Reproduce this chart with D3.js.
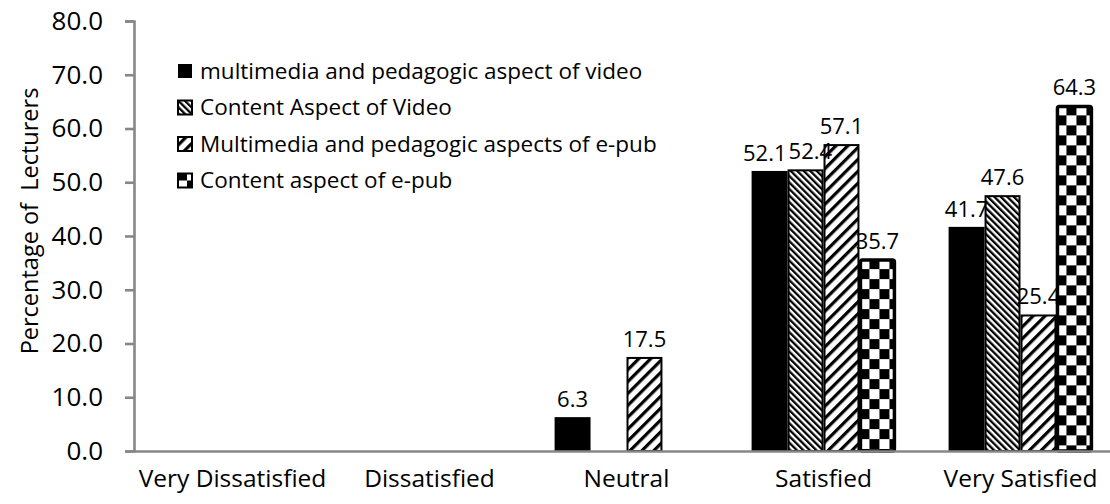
<!DOCTYPE html>
<html>
<head>
<meta charset="utf-8">
<script src="https://cdn.jsdelivr.net/npm/d3@7/dist/d3.min.js"></script>
<style>
  body{margin:0;background:#fff;}
  text{font-family:"Open Sans",sans-serif;fill:#000;}
</style>
</head>
<body>
<div id="chart"></div>
<script>
//data
var categories = ['Very Dissatisfied','Dissatisfied','Neutral','Satisfied','Very Satisfied'];
var seriesNames = ['multimedia and pedagogic aspect of video','Content Aspect of Video','Multimedia and pedagogic aspects of e-pub','Content aspect of e-pub'];
var videoMultimedia = [null,null,6.3,52.1,41.7];
var videoContent    = [null,null,null,52.4,47.6];
var epubMultimedia  = [null,null,17.5,57.1,25.4];
var epubContent     = [null,null,null,35.7,64.3];
var yTicks = [0,10,20,30,40,50,60,70,80];

var seriesValues = [videoMultimedia,videoContent,epubMultimedia,epubContent];
var fills = ['#000','url(#pat-back)','url(#pat-fwd)','url(#pat-check)'];

var W = 1110, H = 504;
var plotL = 134, plotR = 1119, plotT = 21, plotB = 451;
var grey = '#878787';

var svg = d3.select('#chart').append('svg')
    .attr('width',W)
    .attr('height',H);

//fill patterns
var defs = svg.append('defs');

var pBack = defs.append('pattern')
    .attr('id','pat-back')
    .attr('patternUnits','userSpaceOnUse')
    .attr('width',4.6).attr('height',4.6)
    .attr('patternTransform','rotate(-45)');
pBack.append('rect').attr('width',4.6).attr('height',4.6).attr('fill','#fff');
pBack.append('rect').attr('width',2.3).attr('height',4.6).attr('fill','#000');

var pFwd = defs.append('pattern')
    .attr('id','pat-fwd')
    .attr('patternUnits','userSpaceOnUse')
    .attr('width',8.4).attr('height',8.4)
    .attr('patternTransform','rotate(45)');
pFwd.append('rect').attr('width',8.4).attr('height',8.4).attr('fill','#fff');
pFwd.append('rect').attr('width',3.2).attr('height',8.4).attr('fill','#000');

var pCheck = defs.append('pattern')
    .attr('id','pat-check')
    .attr('patternUnits','userSpaceOnUse')
    .attr('width',20).attr('height',20);
pCheck.append('rect').attr('width',20).attr('height',20).attr('fill','#fff');
pCheck.append('rect').attr('x',10).attr('y',0).attr('width',10).attr('height',10).attr('fill','#000');
pCheck.append('rect').attr('x',0).attr('y',10).attr('width',10).attr('height',10).attr('fill','#000');

//scales
var x0 = d3.scaleBand().domain(categories).range([plotL,plotR]).padding(0);
var groupW = x0.bandwidth()*0.73;
var x1 = d3.scaleBand().domain(d3.range(seriesNames.length)).range([0,groupW]).padding(0);
var y = d3.scaleLinear().domain([0,80]).range([plotB,plotT]);

function barX(d){ return x0(d.cat) + (x0.bandwidth()-groupW)/2 + x1(d.s); }

//bars
var bars = [];
categories.forEach(function(c,ci){
  seriesValues.forEach(function(vals,si){
    if(vals[ci] != null) bars.push({cat:c,s:si,v:vals[ci]});
  });
});

var barG = svg.append('g').attr('class','bars');
var barSel = barG.selectAll('g')
    .data(bars)
    .enter().append('g')
    .attr('transform',function(d){ return 'translate(' + barX(d) + ',' + y(d.v) + ')'; });

barSel.append('rect')
    .attr('x',function(d){ return d.s==0 ? 0 : 1; })
    .attr('y',function(d){ return d.s==0 ? 0 : 1; })
    .attr('width',function(d){ return d.s==0 ? x1.bandwidth() : x1.bandwidth()-2; })
    .attr('height',function(d){ return y(0)-y(d.v) - (d.s==0 ? 0 : 1); })
    .attr('rx',function(d){ return d.s==3 ? 2 : 0; })
    .attr('fill',function(d){ return fills[d.s]; })
    .attr('stroke',function(d){ return d.s==0 ? 'none' : '#000'; })
    .attr('stroke-width',function(d){ return d.s==3 ? 3.5 : 2; });

//axes
var yAxis = d3.axisLeft(y)
    .tickValues(yTicks)
    .tickFormat(d3.format('.1f'))
    .tickSize(9)
    .tickPadding(22);

var gy = svg.append('g')
    .attr('transform','translate(' + plotL + ',0)')
    .call(yAxis);
gy.select('.domain').attr('stroke',grey).attr('stroke-width',2.6);
gy.selectAll('.tick line').attr('stroke',grey).attr('stroke-width',2.6);
gy.selectAll('.tick text').attr('font-size',26);

var xAxis = d3.axisBottom(x0)
    .tickSize(0)
    .tickSizeOuter(0)
    .tickPadding(19);

var gx = svg.append('g')
    .attr('transform','translate(0,' + plotB + ')')
    .call(xAxis);
gx.select('.domain').attr('stroke',grey).attr('stroke-width',2.6);
gx.selectAll('.tick text').attr('font-size',24.5);

//value labels, pushed apart inside a group when they collide
var labels = barG.selectAll('text.val')
    .data(bars)
    .enter().append('text')
    .attr('class','val')
    .attr('text-anchor','middle')
    .attr('font-size',22)
    .text(function(d){ return d3.format('.1f')(d.v); })
    .each(function(d){
      d.lx = barX(d) + x1.bandwidth()/2;
      d.ly = y(d.v) - 10;
      d.lw = this.getComputedTextLength();
    });

categories.forEach(function(c){
  var grp = bars.filter(function(d){ return d.cat == c; });
  for(var k=0;k<5;k++){
    for(var i=1;i<grp.length;i++){
      var a = grp[i-1], b = grp[i];
      if(Math.abs(a.ly-b.ly) > 20) continue;
      var over = (a.lx + a.lw/2 + 2) - (b.lx - b.lw/2);
      if(over > 0){ a.lx -= over/2; b.lx += over/2; }
    }
  }
});

labels
    .attr('x',function(d){ return d.lx; })
    .attr('y',function(d){ return d.ly; });

//y title
svg.append('text')
    .attr('transform','translate(38,221) rotate(-90)')
    .attr('text-anchor','middle')
    .attr('font-size',23.5)
    .attr('xml:space','preserve')
    .text('Percentage of  Lecturers');

//legend
var legend = svg.append('g')
    .attr('transform','translate(177,71)');

var item = legend.selectAll('g')
    .data(seriesNames)
    .enter().append('g')
    .attr('transform',function(d,i){ return 'translate(0,' + (i*36.5) + ')'; });

item.append('rect')
    .attr('x',1).attr('y',-7)
    .attr('width',14).attr('height',14)
    .attr('fill',function(d,i){ return fills[i]; })
    .attr('stroke','#000')
    .attr('stroke-width',function(d,i){ return i==0 ? 0 : 2; });

item.append('text')
    .attr('x',23)
    .attr('dy','0.35em')
    .attr('font-size',22.5)
    .text(String);
</script>
</body>
</html>
